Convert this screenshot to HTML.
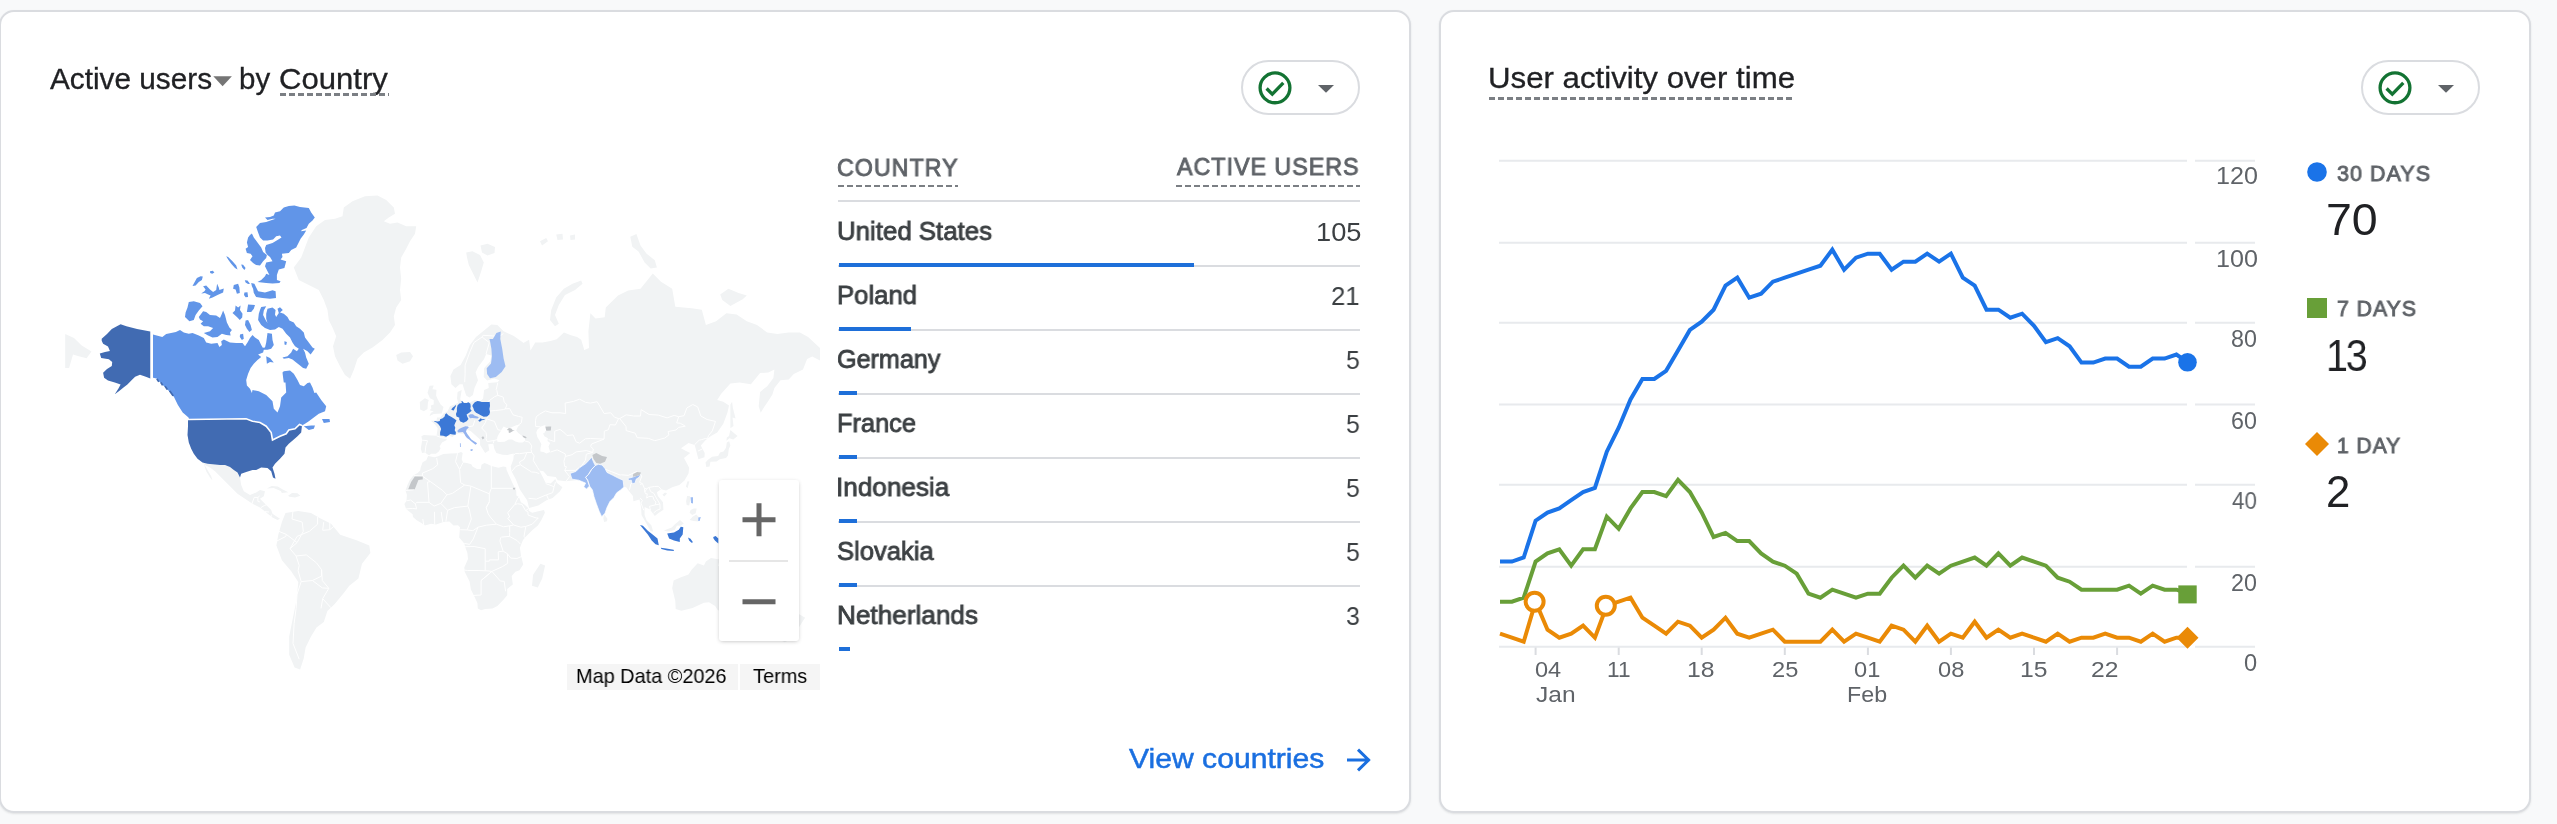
<!DOCTYPE html>
<html lang="en"><head><meta charset="utf-8"><title>Analytics overview</title>
<style>
*{box-sizing:border-box;margin:0;padding:0}
html,body{width:2557px;height:824px;overflow:hidden;background:#f8f9fa;font-family:"Liberation Sans", sans-serif}
#root{position:relative;width:2557px;height:824px;overflow:hidden}
.abs{position:absolute;overflow:visible}
.t{position:absolute;line-height:1;white-space:nowrap;will-change:transform;-webkit-font-smoothing:antialiased}
.t.c{text-align:center}
.card{position:absolute;background:#fff;border:2px solid #dadce0;border-radius:15px;box-shadow:0 1px 2px rgba(60,64,67,.12)}
.pill{position:absolute;width:119px;height:55px;border:2px solid #dadce0;border-radius:28px;background:#fff}
.dash{position:absolute;height:2.6px;background:repeating-linear-gradient(90deg,#7b7f84 0 6px,transparent 6px 9px)}
.hl{position:absolute;height:2px;background:#dadce0}
.bar{position:absolute;height:4px;background:#1e6fd9}
.zoom{position:absolute;left:719px;top:480px;width:80px;height:161px;background:#fff;border-radius:3px;box-shadow:0 1px 4px -1px rgba(0,0,0,.3)}
.attr{position:absolute;top:664px;height:26px;background:#f5f5f5}
</style></head>
<body><div id="root">
<div class="card" style="left:-1px;top:10px;width:1411.5px;height:803px"></div>
<div class="card" style="left:1439px;top:10px;width:1092px;height:803px"></div>
<div class="t" id="t_active" style="left:49.50px;top:63.51px;font-size:29.4px;color:#202124;letter-spacing:0px;-webkit-text-stroke:0.3px #202124;transform:scaleX(1.0127);transform-origin:left center">Active users</div>
<svg class="abs" style="left:213px;top:75.5px" width="20" height="11"><path d="M0.3 0.3h18.6l-9.3 10z" fill="#757575"/></svg>
<div class="t" id="t_by" style="left:238.80px;top:63.51px;font-size:29.4px;color:#202124;letter-spacing:0px;-webkit-text-stroke:0.3px #202124;transform:scaleX(1.0026);transform-origin:left center">by</div>
<div class="t" id="t_country" style="left:279.20px;top:63.51px;font-size:29.4px;color:#202124;letter-spacing:0px;-webkit-text-stroke:0.3px #202124;transform:scaleX(1.0581);transform-origin:left center">Country</div>
<div class="dash" style="left:280px;top:93px;width:109px"></div>
<div class="pill" style="left:1241px;top:60px"></div><svg class="abs" style="left:1256px;top:69px" width="38" height="38" viewBox="0 0 38 38"><circle cx="19" cy="18.85" r="14.9" fill="none" stroke="#137333" stroke-width="3.3"/><path d="M10.6 19.5l5.7 5.7 11-11.4" fill="none" stroke="#137333" stroke-width="3.3"/></svg><svg class="abs" style="left:1318.2px;top:84.9px" width="18" height="10"><path d="M0 0h16l-8 7.8z" fill="#5f6368"/></svg>
<div class="pill" style="left:2361px;top:60px"></div><svg class="abs" style="left:2376px;top:69px" width="38" height="38" viewBox="0 0 38 38"><circle cx="19" cy="18.85" r="14.9" fill="none" stroke="#137333" stroke-width="3.3"/><path d="M10.6 19.5l5.7 5.7 11-11.4" fill="none" stroke="#137333" stroke-width="3.3"/></svg><svg class="abs" style="left:2438.2px;top:84.9px" width="18" height="10"><path d="M0 0h16l-8 7.8z" fill="#5f6368"/></svg>
<div class="t" id="h_country" style="left:836.50px;top:155.68px;font-size:24px;color:#5f6368;letter-spacing:1px;-webkit-text-stroke:0.9px #5f6368;transform:scaleX(0.9709);transform-origin:left center">COUNTRY</div>
<div class="dash" style="left:838px;top:184.5px;width:120px;"></div>
<div class="t" id="h_users" style="left:1177.30px;top:154.98px;font-size:24px;color:#5f6368;letter-spacing:1px;-webkit-text-stroke:0.9px #5f6368;transform:scaleX(0.9708);transform-origin:left center">ACTIVE USERS</div>
<div class="dash" style="left:1176px;top:184.5px;width:184px;"></div>
<div class="hl" style="left:838px;top:200px;width:522px"></div>
<div class="t" id="r0" style="left:837.30px;top:218.34px;font-size:26.3px;color:#3c4043;letter-spacing:0px;-webkit-text-stroke:0.85px #3c4043;transform:scaleX(0.9821);transform-origin:left center">United States</div>
<div class="t" id="v0" style="left:1315.50px;top:219.48px;font-size:26.6px;color:#3c4043;letter-spacing:0px;transform:scaleX(1.0244);transform-origin:left center">105</div>
<div class="hl" style="left:838px;top:265px;width:522px"></div>
<div class="bar" style="left:839px;top:263px;width:355px"></div>
<div class="t" id="r1" style="left:837.30px;top:282.34px;font-size:26.3px;color:#3c4043;letter-spacing:0px;-webkit-text-stroke:0.85px #3c4043;transform:scaleX(0.9766);transform-origin:left center">Poland</div>
<div class="t" id="v1" style="left:1331.00px;top:283.48px;font-size:26.6px;color:#3c4043;letter-spacing:0px;transform:scaleX(0.9675);transform-origin:left center">21</div>
<div class="hl" style="left:838px;top:329px;width:522px"></div>
<div class="bar" style="left:839px;top:327px;width:71.5px"></div>
<div class="t" id="r2" style="left:837.30px;top:346.34px;font-size:26.3px;color:#3c4043;letter-spacing:0px;-webkit-text-stroke:0.85px #3c4043;transform:scaleX(0.9565);transform-origin:left center">Germany</div>
<div class="t" id="v2" style="left:1346.00px;top:347.48px;font-size:26.6px;color:#3c4043;letter-spacing:0px;transform:scaleX(0.9380);transform-origin:left center">5</div>
<div class="hl" style="left:838px;top:393px;width:522px"></div>
<div class="bar" style="left:839px;top:391px;width:17.5px"></div>
<div class="t" id="r3" style="left:837.30px;top:410.34px;font-size:26.3px;color:#3c4043;letter-spacing:0px;-webkit-text-stroke:0.85px #3c4043;transform:scaleX(0.9648);transform-origin:left center">France</div>
<div class="t" id="v3" style="left:1346.00px;top:411.48px;font-size:26.6px;color:#3c4043;letter-spacing:0px;transform:scaleX(0.9380);transform-origin:left center">5</div>
<div class="hl" style="left:838px;top:457px;width:522px"></div>
<div class="bar" style="left:839px;top:455px;width:17.5px"></div>
<div class="t" id="r4" style="left:836.30px;top:474.34px;font-size:26.3px;color:#3c4043;letter-spacing:0px;-webkit-text-stroke:0.85px #3c4043;transform:scaleX(0.9929);transform-origin:left center">Indonesia</div>
<div class="t" id="v4" style="left:1346.00px;top:475.48px;font-size:26.6px;color:#3c4043;letter-spacing:0px;transform:scaleX(0.9380);transform-origin:left center">5</div>
<div class="hl" style="left:838px;top:521px;width:522px"></div>
<div class="bar" style="left:839px;top:519px;width:17.5px"></div>
<div class="t" id="r5" style="left:837.30px;top:538.34px;font-size:26.3px;color:#3c4043;letter-spacing:0px;-webkit-text-stroke:0.85px #3c4043;transform:scaleX(0.9723);transform-origin:left center">Slovakia</div>
<div class="t" id="v5" style="left:1346.00px;top:539.48px;font-size:26.6px;color:#3c4043;letter-spacing:0px;transform:scaleX(0.9380);transform-origin:left center">5</div>
<div class="hl" style="left:838px;top:585px;width:522px"></div>
<div class="bar" style="left:839px;top:583px;width:17.5px"></div>
<div class="t" id="r6" style="left:837.30px;top:602.34px;font-size:26.3px;color:#3c4043;letter-spacing:0px;-webkit-text-stroke:0.85px #3c4043;transform:scaleX(0.9939);transform-origin:left center">Netherlands</div>
<div class="t" id="v6" style="left:1346.00px;top:603.48px;font-size:26.6px;color:#3c4043;letter-spacing:0px;transform:scaleX(0.9380);transform-origin:left center">3</div>
<div class="bar" style="left:839px;top:647px;width:11px"></div>
<div class="t" id="t_view" style="left:1128.50px;top:744.70px;font-size:28px;color:#1a6fe0;letter-spacing:0px;-webkit-text-stroke:0.5px #1a6fe0;transform:scaleX(1.0759);transform-origin:left center">View countries</div>
<svg class="abs" style="left:1345px;top:746px" width="28" height="28" viewBox="0 0 28 28"><path d="M2 14H24.6M13 3.6L23.6 14 13 24.4" fill="none" stroke="#1a6fe0" stroke-width="3"/></svg>
<div class="t" id="t_user" style="left:1487.50px;top:63.11px;font-size:29.4px;color:#202124;letter-spacing:0px;-webkit-text-stroke:0.3px #202124;transform:scaleX(1.0621);transform-origin:left center">User activity over time</div>
<div class="dash" style="left:1489px;top:97px;width:306px"></div>
<svg class="abs" style="left:0;top:0" width="2557" height="824" viewBox="0 0 2557 824">
<path d="M1499 646.7H2187M2195 646.7H2255" stroke="#e8eaed" stroke-width="2" fill="none"/>
<path d="M1499 566.7H2187M2195 566.7H2255" stroke="#e8eaed" stroke-width="2" fill="none"/>
<path d="M1499 484.8H2187M2195 484.8H2255" stroke="#e8eaed" stroke-width="2" fill="none"/>
<path d="M1499 404.6H2187M2195 404.6H2255" stroke="#e8eaed" stroke-width="2" fill="none"/>
<path d="M1499 322.7H2187M2195 322.7H2255" stroke="#e8eaed" stroke-width="2" fill="none"/>
<path d="M1499 242.7H2187M2195 242.7H2255" stroke="#e8eaed" stroke-width="2" fill="none"/>
<path d="M1499 160.8H2187M2195 160.8H2255" stroke="#e8eaed" stroke-width="2" fill="none"/>
<path d="M1535.6 647.5V655" stroke="#dadce0" stroke-width="2"/>
<path d="M1618.7 647.5V655" stroke="#dadce0" stroke-width="2"/>
<path d="M1701.7 647.5V655" stroke="#dadce0" stroke-width="2"/>
<path d="M1784.8 647.5V655" stroke="#dadce0" stroke-width="2"/>
<path d="M1867.9 647.5V655" stroke="#dadce0" stroke-width="2"/>
<path d="M1950.9 647.5V655" stroke="#dadce0" stroke-width="2"/>
<path d="M2034.0 647.5V655" stroke="#dadce0" stroke-width="2"/>
<path d="M2117.1 647.5V655" stroke="#dadce0" stroke-width="2"/>
<polyline points="1500.0,633.7 1511.9,637.7 1523.7,641.7 1535.6,601.7 1547.5,629.7 1559.3,637.7 1571.2,633.7 1583.1,625.7 1594.9,637.7 1606.8,605.7 1618.7,601.7 1630.5,597.7 1642.4,617.7 1654.3,625.7 1666.1,633.7 1678.0,621.7 1689.9,625.7 1701.7,637.7 1713.6,629.7 1725.5,617.7 1737.3,633.7 1749.2,637.7 1761.1,633.7 1772.9,629.7 1784.8,641.7 1796.7,641.7 1808.5,641.7 1820.4,641.7 1832.3,629.7 1844.1,641.7 1856.0,633.7 1867.9,637.7 1879.7,641.7 1891.6,625.7 1903.5,629.7 1915.3,641.7 1927.2,625.7 1939.1,641.7 1950.9,633.7 1962.8,637.7 1974.7,621.7 1986.5,637.7 1998.4,629.7 2010.3,637.7 2022.1,633.7 2034.0,637.7 2045.9,641.7 2057.7,633.7 2069.6,641.7 2081.5,637.7 2093.3,637.7 2105.2,633.7 2117.1,637.7 2129.0,637.7 2140.8,641.7 2152.7,633.7 2164.6,641.7 2176.4,637.7 2188.3,637.7" fill="none" stroke="#ea8a06" stroke-width="4" stroke-linejoin="miter"/>
<polyline points="1500.0,601.7 1511.9,601.7 1523.7,597.7 1535.6,561.6 1547.5,553.4 1559.3,549.3 1571.2,565.7 1583.1,549.3 1594.9,549.3 1606.8,516.6 1618.7,528.8 1630.5,508.4 1642.4,492.0 1654.3,492.0 1666.1,496.1 1678.0,479.8 1689.9,492.0 1701.7,512.5 1713.6,537.0 1725.5,532.9 1737.3,541.1 1749.2,541.1 1761.1,553.4 1772.9,561.6 1784.8,565.7 1796.7,573.7 1808.5,593.7 1820.4,597.7 1832.3,589.7 1844.1,593.7 1856.0,597.7 1867.9,593.7 1879.7,593.7 1891.6,577.7 1903.5,565.7 1915.3,577.7 1927.2,565.7 1939.1,573.7 1950.9,565.7 1962.8,561.6 1974.7,557.5 1986.5,565.7 1998.4,553.4 2010.3,565.7 2022.1,557.5 2034.0,561.6 2045.9,565.7 2057.7,577.7 2069.6,581.7 2081.5,589.7 2093.3,589.7 2105.2,589.7 2117.1,589.7 2129.0,585.7 2140.8,593.7 2152.7,585.7 2164.6,589.7 2176.4,589.7 2188.3,593.7" fill="none" stroke="#689f38" stroke-width="4" stroke-linejoin="miter"/>
<polyline points="1500.0,561.6 1511.9,561.6 1523.7,557.5 1535.6,520.7 1547.5,512.5 1559.3,508.4 1571.2,500.2 1583.1,492.0 1594.9,487.9 1606.8,451.7 1618.7,427.7 1630.5,399.5 1642.4,379.0 1654.3,379.0 1666.1,370.8 1678.0,350.4 1689.9,329.9 1701.7,321.7 1713.6,309.7 1725.5,285.7 1737.3,277.7 1749.2,297.7 1761.1,293.7 1772.9,281.7 1784.8,277.7 1796.7,273.7 1808.5,269.7 1820.4,265.7 1832.3,249.7 1844.1,269.7 1856.0,257.7 1867.9,253.7 1879.7,253.7 1891.6,269.7 1903.5,261.7 1915.3,261.7 1927.2,253.7 1939.1,261.7 1950.9,253.7 1962.8,277.7 1974.7,285.7 1986.5,309.7 1998.4,309.7 2010.3,317.7 2022.1,313.7 2034.0,325.8 2045.9,342.2 2057.7,338.1 2069.6,346.3 2081.5,362.6 2093.3,362.6 2105.2,358.6 2117.1,358.6 2129.0,366.7 2140.8,366.7 2152.7,358.6 2164.6,358.6 2176.4,354.5 2188.3,362.6" fill="none" stroke="#1a73e8" stroke-width="4" stroke-linejoin="miter"/>
<circle cx="1534.6" cy="601.7" r="9" fill="#fff" stroke="#ea8a06" stroke-width="4"/>
<circle cx="1605.8" cy="605.7" r="9" fill="#fff" stroke="#ea8a06" stroke-width="4"/>
<circle cx="2187.5" cy="362.3" r="9.3" fill="#1a73e8"/>
<rect x="2178.3" y="585.4" width="18.4" height="18" fill="#689f38"/>
<path d="M2187.5 626.7l11 11-11 11-11-11z" fill="#ea8a06"/>
<circle cx="2317" cy="172" r="9.8" fill="#1a73e8"/>
<rect x="2307" y="298" width="20" height="20" fill="#689f38"/>
<path d="M2317 432l12 12-12 12-12-12z" fill="#ea8a06"/>
</svg>
<div class="t" id="y0" style="left:2244.00px;top:651.60px;font-size:23.2px;color:#5f6368;letter-spacing:0px;transform:scaleX(1.0191);transform-origin:left center">0</div>
<div class="t" id="y20" style="left:2231.30px;top:571.60px;font-size:23.2px;color:#5f6368;letter-spacing:0px;transform:scaleX(1.0044);transform-origin:left center">20</div>
<div class="t" id="y40" style="left:2232.30px;top:489.56px;font-size:23.2px;color:#5f6368;letter-spacing:0px;transform:scaleX(0.9641);transform-origin:left center">40</div>
<div class="t" id="y60" style="left:2231.30px;top:409.64px;font-size:23.2px;color:#5f6368;letter-spacing:0px;transform:scaleX(1.0044);transform-origin:left center">60</div>
<div class="t" id="y80" style="left:2231.30px;top:327.60px;font-size:23.2px;color:#5f6368;letter-spacing:0px;transform:scaleX(1.0044);transform-origin:left center">80</div>
<div class="t" id="y100" style="left:2215.70px;top:247.60px;font-size:23.2px;color:#5f6368;letter-spacing:0px;transform:scaleX(1.0837);transform-origin:left center">100</div>
<div class="t" id="y120" style="left:2215.70px;top:165.23px;font-size:23.2px;color:#5f6368;letter-spacing:0px;transform:scaleX(1.0837);transform-origin:left center">120</div>
<div class="t" id="x04" style="left:1535.30px;top:659.37px;font-size:22.6px;color:#5f6368;letter-spacing:0px;transform:scaleX(1.0431);transform-origin:left center">04</div>
<div class="t" id="xJan" style="left:1536.30px;top:683.87px;font-size:22.6px;color:#5f6368;letter-spacing:0px;transform:scaleX(1.0847);transform-origin:left center">Jan</div>
<div class="t" id="x11" style="left:1607.07px;top:659.37px;font-size:22.6px;color:#5f6368;letter-spacing:0px;transform:scaleX(1.0021);transform-origin:left center">11</div>
<div class="t" id="x18" style="left:1687.27px;top:659.37px;font-size:22.6px;color:#5f6368;letter-spacing:0px;transform:scaleX(1.0934);transform-origin:left center">18</div>
<div class="t" id="x25" style="left:1771.72px;top:659.37px;font-size:22.6px;color:#5f6368;letter-spacing:0px;transform:scaleX(1.0460);transform-origin:left center">25</div>
<div class="t" id="x01" style="left:1854.17px;top:659.37px;font-size:22.6px;color:#5f6368;letter-spacing:0px;transform:scaleX(1.0460);transform-origin:left center">01</div>
<div class="t" id="xFeb" style="left:1847.20px;top:683.87px;font-size:22.6px;color:#5f6368;letter-spacing:0px;transform:scaleX(1.0295);transform-origin:left center">Feb</div>
<div class="t" id="x08" style="left:1937.62px;top:659.37px;font-size:22.6px;color:#5f6368;letter-spacing:0px;transform:scaleX(1.0460);transform-origin:left center">08</div>
<div class="t" id="x15" style="left:2020.06px;top:659.37px;font-size:22.6px;color:#5f6368;letter-spacing:0px;transform:scaleX(1.0934);transform-origin:left center">15</div>
<div class="t" id="x22" style="left:2090.80px;top:659.37px;font-size:22.6px;color:#5f6368;letter-spacing:0px;transform:scaleX(1.0911);transform-origin:left center">22</div>
<div class="t" id="l30" style="left:2336.80px;top:162.68px;font-size:22px;color:#5f6368;letter-spacing:1px;-webkit-text-stroke:0.9px #5f6368;transform:scaleX(0.9808);transform-origin:left center">30 DAYS</div>
<div class="t" id="n70" style="left:2325.70px;top:198.03px;font-size:44.5px;color:#202124;letter-spacing:0px;transform:scaleX(1.0445);transform-origin:left center">70</div>
<div class="t" id="l7" style="left:2337.00px;top:298.48px;font-size:22px;color:#5f6368;letter-spacing:1px;-webkit-text-stroke:0.9px #5f6368;transform:scaleX(0.9670);transform-origin:left center">7 DAYS</div>
<div class="t" id="n13" style="left:2325.50px;top:335.26px;font-size:43.5px;color:#202124;letter-spacing:-2.5px;transform:scaleX(0.9075);transform-origin:left center">13</div>
<div class="t" id="l1" style="left:2337.00px;top:434.68px;font-size:22px;color:#5f6368;letter-spacing:1px;-webkit-text-stroke:0.9px #5f6368;transform:scaleX(0.9581);transform-origin:left center">1 DAY</div>
<div class="t" id="n2" style="left:2325.60px;top:470.88px;font-size:43.5px;color:#202124;letter-spacing:0px;transform:scaleX(1.0057);transform-origin:left center">2</div>
<svg class="abs" style="left:0;top:0" width="830" height="720" viewBox="0 0 830 720">
<defs><clipPath id="mclip"><rect x="64" y="150" width="756" height="545"/></clipPath></defs><g clip-path="url(#mclip)">
<path d="M343.8 207.5L352.5 201.2L365.0 196.2L377.5 195.5L386.2 200.0L393.8 207.5L395.0 213.8L388.8 217.5L383.8 221.2L390.0 223.8L397.5 222.5L406.2 226.2L416.2 226.2L415.0 233.8L410.0 241.2L406.2 248.8L401.2 257.5L400.0 267.5L401.2 278.8L400.0 290.0L401.2 300.0L396.2 307.5L393.8 316.2L395.0 325.0L390.0 332.5L382.5 340.0L372.5 347.5L363.8 352.5L357.5 358.8L353.8 370.0L350.0 378.8L345.0 375.0L340.0 366.2L335.0 356.2L333.0 346.2L336.2 336.2L332.5 327.5L328.8 320.0L327.5 310.0L323.8 300.0L318.8 290.0L308.8 285.0L298.8 280.0L293.8 267.5L301.2 257.5L305.0 247.5L308.8 237.5L316.2 226.2L325.0 220.0L335.0 218.8L342.5 216.2ZM396.2 355.0L401.2 352.5L410.0 352.0L413.0 356.2L410.0 361.2L402.5 363.8L397.5 360.5ZM466.2 252.5L472.5 251.2L480.0 255.0L483.8 262.5L481.2 271.2L477.5 282.5L473.8 275.0L468.8 265.0L467.0 257.5ZM480.5 245.5L487.5 243.8L495.0 247.0L494.5 253.0L487.5 255.5L482.0 252.5ZM581.2 280.5L582.5 283.8L575.0 290.0L565.0 295.0L558.8 305.0L555.0 315.0L558.8 323.8L555.0 326.2L550.0 320.0L551.2 310.0L556.2 297.5L563.8 288.8L572.5 283.8ZM540.0 241.2L546.2 238.0L548.0 241.2L542.0 245.5ZM556.2 234.5L562.5 233.8L563.0 239.5L557.5 240.0ZM570.0 235.5L575.0 234.5L575.0 239.5L570.5 240.0ZM285.5 512.9L298.3 511.0L311.0 512.9L320.1 518.3L331.1 523.8L340.2 534.7L356.5 540.2L369.3 545.6L370.4 552.9L362.0 563.8L358.4 578.4L349.3 585.7L343.8 592.9L334.7 603.9L327.4 611.1L323.8 622.1L316.5 627.5L311.0 636.6L305.6 647.5L303.7 658.5L300.1 669.4L294.6 667.6L289.2 654.8L289.2 636.6L292.8 618.4L296.5 600.2L298.3 582.0L291.0 571.1L281.9 560.2L276.4 545.6L278.3 534.7L281.9 522.0ZM428.1 455.9L434.3 457.2L438.2 456.2L443.3 453.9L450.4 453.4L457.6 453.2L461.0 452.1L462.7 452.9L461.7 459.2L463.1 462.4L466.8 463.1L471.3 464.3L472.5 466.5L477.0 468.9L480.7 468.9L481.5 464.8L484.4 463.1L487.2 463.9L491.3 466.0L498.5 467.7L503.2 466.5L506.2 467.0L506.6 470.1L508.7 474.8L512.8 483.8L516.2 490.5L516.4 495.5L518.9 497.0L520.9 502.3L524.4 504.4L528.7 508.4L528.7 510.7L532.2 512.8L537.3 511.4L544.0 509.9L544.9 512.8L541.4 520.1L537.9 525.6L532.2 530.3L526.0 536.4L523.0 540.1L519.9 547.7L520.9 554.9L523.2 564.4L519.5 570.3L515.4 571.8L511.7 576.1L512.8 584.5L507.2 589.0L507.2 595.2L503.2 599.9L497.4 605.9L492.5 608.4L485.2 608.9L481.1 610.3L477.8 608.4L477.4 603.0L473.9 595.4L470.9 589.5L469.6 581.6L464.7 571.8L464.3 567.5L468.0 559.1L467.4 552.9L465.1 546.7L464.3 543.4L459.2 537.5L459.6 532.4L460.0 527.2L458.0 525.2L453.5 525.6L449.4 521.5L443.3 522.1L436.1 524.6L431.0 523.8L424.9 525.4L421.4 522.9L416.7 520.3L413.0 517.0L412.6 514.3L409.5 511.8L406.1 508.9L404.4 504.0L406.5 500.8L406.9 494.8L405.5 490.5L407.5 485.0L409.9 479.8L413.6 475.2L417.7 472.9L420.2 470.5L420.6 467.7L422.6 462.2L426.3 460.2ZM540.4 563.8L545.1 565.6L542.2 578.4L537.8 587.5L532.0 585.7L533.1 574.7ZM202.5 462.5L207.5 463.8L215.0 464.5L220.0 465.0L225.0 465.0L230.0 467.0L233.8 470.0L237.5 472.5L240.0 477.5L241.2 485.0L243.8 491.2L250.0 495.0L256.2 492.5L260.0 490.0L265.0 491.2L263.8 496.2L260.0 498.8L265.0 503.8L271.2 510.0L272.5 513.8L276.2 516.2L280.0 518.8L277.5 520.0L272.5 517.5L266.2 512.5L260.0 507.5L252.5 503.8L245.0 498.8L237.5 493.8L230.0 486.2L222.5 478.8L215.0 471.2L210.0 467.5L205.0 465.0ZM203.8 463.8L207.5 470.0L211.2 476.2L212.5 480.5L210.0 477.5L206.2 471.2ZM421.4 436.3L422.2 440.2L420.8 448.5L422.0 452.9L425.1 452.4L427.3 454.2L429.2 455.2L431.2 453.7L435.9 453.7L438.8 451.4L440.6 448.2L439.6 446.4L442.0 442.4L446.7 439.9L446.3 436.0L448.4 435.5L452.5 436.9L455.5 434.6L458.6 433.2L464.7 434.1L466.8 429.4L470.9 431.2L480.1 439.6L480.1 445.1L485.2 452.9L489.3 450.3L488.2 444.3L493.3 443.7L494.4 449.0L496.4 452.9L502.5 454.7L507.7 454.9L513.8 453.4L513.4 459.2L510.7 466.5L511.5 471.3L515.8 479.3L519.9 489.4L527.1 500.2L529.1 508.0L538.3 505.5L546.5 500.2L552.6 498.1L559.8 491.6L562.4 487.2L556.7 482.7L555.3 478.9L550.6 483.4L545.5 482.7L543.4 478.2L539.3 470.5L543.4 471.3L547.5 475.9L555.7 477.1L557.7 480.2L565.9 481.2L576.1 480.2L581.2 480.5L591.5 483.8L597.6 492.7L599.6 509.7L603.7 499.1L613.9 489.4L621.1 486.5L626.2 487.2L628.9 490.9L632.9 495.9L633.4 501.3L639.5 499.6L641.1 507.6L641.5 514.9L645.0 521.1L650.7 531.3L653.2 531.5L651.3 525.2L646.6 520.5L644.6 514.9L644.6 507.0L649.7 509.3L654.8 515.9L658.5 513.0L663.4 509.7L663.0 502.3L657.9 495.9L656.9 492.2L661.0 489.2L666.1 490.5L672.2 487.2L679.3 485.0L684.5 480.5L688.5 473.6L689.2 467.7L684.0 458.0L690.2 452.9L685.5 450.8L681.0 448.2L688.5 442.9L694.7 445.1L696.3 451.1L698.4 459.2L704.5 457.2L704.7 452.9L700.8 445.6L705.5 440.2L711.0 436.0L717.2 432.6L723.3 423.8L727.4 412.8L729.0 405.5L723.3 401.7L717.2 400.0L721.2 393.8L730.4 383.4L739.6 382.6L750.9 384.2L760.1 373.0L768.3 372.6L774.4 369.6L773.4 378.1L767.2 386.2L760.1 391.9L758.7 406.2L760.7 412.8L764.2 406.9L768.3 401.0L772.4 394.5L774.4 388.1L780.5 380.2L788.7 379.4L793.8 373.9L803.0 369.6L807.1 359.0L812.2 356.5L820.0 360.4L820.0 347.9L808.1 337.0L799.9 332.4L788.7 332.4L777.5 334.1L767.2 332.4L757.0 325.1L746.8 321.2L736.6 314.6L726.4 313.2L716.1 321.2L705.9 325.1L701.8 309.7L691.6 308.3L675.3 306.8L672.2 288.8L661.0 281.8L652.8 273.5L640.5 288.8L628.2 290.5L618.0 295.4L605.8 307.6L604.7 317.3L595.5 318.6L590.4 313.2L588.4 331.2L589.0 347.9L584.3 350.0L581.2 339.8L577.1 337.0L571.0 335.3L563.9 332.4L556.7 339.3L550.6 340.9L542.4 342.6L535.2 342.6L530.5 350.5L529.1 339.8L522.0 343.7L524.4 350.5L518.9 353.1L510.7 350.5L515.8 362.7L520.9 359.9L523.6 352.1L525.0 346.9L523.0 342.6L513.8 335.9L503.6 331.2L497.4 325.1L491.3 324.4L483.1 331.2L476.0 337.0L469.8 345.3L465.8 355.6L460.6 365.1L453.5 369.6L450.4 376.0L451.4 384.2L455.5 388.1L459.6 384.2L462.7 384.2L463.7 388.1L466.2 395.6L469.4 397.4L472.9 394.9L474.5 388.1L478.0 380.2L475.6 372.6L478.0 367.3L484.1 359.0L486.2 354.1L491.3 355.6L490.3 361.3L484.1 368.2L483.7 376.9L487.2 380.6L494.4 378.5L499.5 380.2L497.4 382.2L488.2 383.0L488.8 388.1L484.1 390.0L483.1 398.5L480.1 401.4L474.9 400.0L469.4 402.8L462.7 402.1L460.2 399.2L461.7 390.0L457.6 391.9L457.0 398.5L458.2 402.8L454.5 404.5L450.0 406.2L447.4 411.5L443.5 413.5L440.6 417.6L437.1 417.6L436.5 420.4L430.8 420.7L435.1 424.4L437.7 428.3L436.5 435.8L432.0 435.5L423.8 434.9ZM429.4 416.0L433.7 414.1L441.8 413.5L443.5 406.9L440.6 404.5L437.7 399.2L436.1 395.6L436.5 389.7L432.4 389.3L433.7 385.4L429.6 385.8L427.5 392.7L430.0 398.2L433.7 400.0L433.7 404.5L430.8 405.5L431.4 408.6L429.6 410.2L433.7 411.5L431.0 412.8ZM427.5 408.9L427.9 402.8L428.8 400.0L424.9 398.2L419.8 402.1L420.2 409.6L423.8 411.2ZM706.3 467.0L709.6 466.5L710.4 461.7L716.5 461.4L719.8 459.2L726.0 458.0L728.0 455.4L728.8 449.0L730.4 445.6L729.2 441.3L726.8 442.4L726.0 447.7L723.5 451.4L720.0 452.4L718.2 455.9L712.1 456.7L708.0 459.7L705.5 462.4ZM726.4 440.7L729.4 438.3L733.3 439.6L737.6 436.0L735.1 434.1L730.4 430.0L729.0 436.0L726.8 437.4ZM730.4 428.3L733.5 425.9L732.5 417.6L735.6 418.6L732.9 407.9L732.1 401.7L730.4 404.5L730.4 416.0L730.4 422.3ZM685.9 486.5L687.5 488.3L689.4 481.6L687.5 481.2ZM662.4 494.8L664.2 496.6L667.1 493.5L665.0 492.5ZM603.3 518.0L604.1 522.1L607.0 521.3L607.4 518.8L604.3 514.5ZM664.2 530.7L667.7 531.5L671.2 531.3L674.9 529.7L676.9 525.6L680.6 525.8L683.8 523.6L680.0 520.1L677.7 522.1L674.9 524.2L671.8 527.4L667.7 528.9L664.6 530.3ZM686.7 505.1L689.2 505.5L690.2 500.2L689.8 495.9L687.1 495.9L686.1 501.3ZM689.6 520.1L693.7 521.1L698.4 521.5L698.8 517.0L696.3 514.5L692.6 516.8ZM689.6 512.8L692.2 514.9L695.7 513.2L696.7 508.6L693.7 508.6L690.6 510.1ZM728.4 539.7L735.6 542.2L741.7 546.7L747.8 555.6L741.7 554.9L734.5 550.2L728.4 553.1ZM673.6 580.5L672.2 588.3L675.3 601.1L675.7 609.1L681.4 610.8L692.6 608.1L703.9 602.8L709.0 602.3L715.1 605.9L718.2 610.8L722.3 607.1L726.0 614.6L733.5 620.3L739.6 621.1L746.4 616.9L749.3 607.1L752.9 598.7L753.5 588.3L748.4 581.6L744.3 576.6L739.0 573.5L737.2 565.4L733.5 563.7L731.5 556.6L729.4 562.2L728.4 570.3L724.9 570.7L718.2 565.8L719.8 559.5L711.0 558.1L705.9 561.6L703.9 565.4L697.7 563.3L691.6 569.7L688.5 574.4L680.4 577.4ZM793.2 609.6L798.9 614.1L805.1 617.7L802.0 622.4L798.5 628.1L797.5 621.9L795.4 621.9L797.5 616.7ZM793.2 625.3L796.3 628.3L793.2 634.2L788.7 640.5L784.6 642.3L780.5 640.2L784.6 634.7L789.7 630.0ZM65.2 334.0L74.0 337.9L81.7 345.6L91.5 351.5L86.6 358.3L78.8 356.3L73.0 354.4L69.1 368.0L65.2 368.0ZM266.9 488.5L271.6 485.9L277.7 486.5L282.8 489.4L288.3 492.2L281.8 492.9L280.8 491.1L273.6 488.1ZM288.1 495.7L292.0 492.9L297.5 493.3L300.4 495.7L295.1 497.6L289.4 496.8ZM720.2 294.6L728.4 288.8L738.6 293.0L746.8 295.4L742.7 299.3L730.4 306.1L722.3 300.1ZM630.3 236.7L636.4 234.1L640.5 245.5L646.6 253.7L654.8 260.3L656.9 267.6L650.7 268.6L644.6 262.5L638.5 251.4L632.3 246.7Z" fill="#f1f3f4"/>
<path d="M293.0 510.7L292.0 519.0L302.2 522.1L303.3 531.3L297.1 542.6M317.6 524.2L309.4 531.3L297.1 536.4L290.0 548.7L296.1 556.0L306.3 554.9L316.5 562.9L321.6 569.7L322.3 580.5L328.8 588.3L322.7 598.7L330.8 607.6M296.1 556.0L299.2 565.4L298.1 570.7L301.2 581.6L297.1 594.0L296.1 608.4L294.1 623.7L293.0 643.5L299.2 659.2M301.2 581.6L312.4 580.5L322.3 587.9L328.8 588.3M276.1 541.4L285.9 536.4L286.3 534.4L297.1 542.6L290.0 548.7M278.7 531.3L286.3 534.4M317.6 524.2L317.6 517.0M323.7 522.1L322.7 530.3L329.8 529.7L329.8 522.5M334.5 525.8L329.8 529.7M312.4 580.5L321.6 576.1L321.6 569.7M322.7 598.7L321.0 608.4M251.7 504.4L254.2 497.4L257.9 497.4L259.7 495.9M257.9 497.4L257.9 501.5L259.9 501.9M260.9 507.6L264.4 505.5L270.1 503.4M265.0 511.6L269.1 512.0M270.8 517.8L271.4 514.7M436.7 458.0L437.7 464.8L432.8 468.7L422.4 473.1L422.4 476.1L413.6 475.4M422.4 476.1L430.4 481.6L442.7 490.5L446.9 494.8L448.8 494.4L452.5 493.3L464.7 485.0L470.9 486.1L489.3 493.8L489.3 501.9L486.2 507.6L488.2 513.9L490.3 517.0L496.4 524.2L503.6 526.8L509.7 525.8L513.6 525.0M457.6 453.2L455.5 461.7L459.6 469.4L460.6 482.7L464.7 485.0M463.1 462.4L461.0 466.5L459.6 469.4M491.3 466.0L491.3 488.3L489.3 493.8M491.3 488.3L515.6 488.3M405.5 490.5L413.6 489.8L413.6 486.1L415.7 485.2L415.7 479.3L422.4 479.3L422.4 476.1M406.5 500.8L410.6 500.0L415.3 503.8L416.7 508.9L412.2 508.4L406.1 508.9M415.3 503.8L416.9 502.3L429.0 502.3L427.5 482.1L430.4 481.6M429.0 502.3L434.1 506.1L440.8 503.4L446.9 494.8M440.8 503.4L447.6 510.3L445.9 521.5M447.6 510.3L454.5 507.6L467.8 506.1L470.9 486.1M467.8 506.1L469.2 509.1L471.3 519.0L467.2 529.9L460.2 529.7M467.2 529.9L472.9 530.7L478.0 527.2L486.2 525.2L496.4 524.2M422.8 519.0L423.8 525.4M434.7 524.2L434.5 511.8M442.7 521.9L441.2 511.8M489.3 501.9L486.2 507.6M514.8 504.4L507.7 512.8L509.7 517.0L507.7 518.4L513.6 525.0L520.9 527.2L525.8 526.4L532.2 524.2L538.3 518.0L536.3 518.0L528.1 515.1L527.9 511.8L525.6 510.7L528.7 508.4M514.8 504.4L517.9 498.1L518.9 497.0M514.8 504.4L517.7 503.8L522.0 504.4L525.6 510.7M525.8 526.4L524.0 536.4L525.2 537.9M509.7 525.8L509.7 532.4L509.5 536.4L501.5 537.1L500.7 537.5L499.9 541.1L503.2 551.2L498.2 551.8L498.5 559.9L489.3 559.9L489.3 561.2L485.2 561.2L485.2 570.7M509.5 536.4L517.3 540.7L520.3 544.0M503.2 551.2L507.4 553.7L510.7 558.1L516.9 558.5L522.8 556.0M464.3 570.1L467.8 570.5L478.0 570.5L488.0 570.9L491.9 571.4L481.1 580.5L481.1 595.0L473.9 595.4M481.1 580.5L491.9 571.4L500.3 581.0L504.2 581.4L505.6 591.3M491.9 571.4L502.3 566.7L507.7 563.3L507.4 553.7M465.1 546.7L474.1 546.5L485.2 548.7L485.2 561.2M464.3 543.4L469.6 544.4L473.3 538.9L478.0 527.2M422.2 440.2L427.5 440.7L425.9 445.9L425.1 452.4M436.5 435.8L441.6 437.7L446.7 438.5M486.0 354.1L489.3 342.6L482.1 337.0L483.1 335.3L492.7 335.9L499.3 336.4L503.4 333.6M464.7 382.2L465.1 373.9L465.1 365.1L469.8 352.1L473.9 342.6L482.1 337.0M488.4 411.2L489.3 413.8L486.6 418.9L494.4 421.4L497.8 429.7L500.7 430.3M488.4 411.2L495.4 410.5L503.6 409.6L505.2 408.9L507.0 404.8L504.2 402.1L503.2 397.1L497.8 395.3L496.8 390.4L496.2 389.7L497.8 382.6M505.2 408.9L509.7 408.6L513.0 414.8L518.5 416.4L522.2 417.3L521.3 422.9L518.3 425.0M488.4 411.2L487.8 401.7L494.6 396.7L497.8 395.3M486.0 432.6L486.6 436.3L486.0 438.8L487.2 441.6L494.0 440.5L497.4 439.6M486.0 432.6L481.7 428.0L485.4 422.6L486.6 418.9M468.2 426.8L473.1 425.9L474.7 420.4M494.0 440.5L493.3 443.2M525.0 441.0L529.1 442.1L531.8 445.9L531.0 449.3L531.8 452.4M535.5 420.7L536.3 416.7L539.7 414.1L545.3 410.9L552.0 412.8L560.0 412.8L565.7 413.5L565.1 403.1L573.5 401.4L579.6 399.2L585.7 402.4L590.4 403.1L597.2 401.7L604.1 413.5L610.7 412.8L614.6 417.3L618.6 418.6M618.6 418.6L619.7 418.6L626.2 414.8L633.6 416.0L640.5 416.0L641.1 409.6L649.1 414.5L658.3 415.1L667.1 417.9L674.2 415.4L678.7 416.7L684.0 415.7L686.9 407.9L692.8 404.5L697.7 406.9L700.8 416.0L707.1 419.5L715.5 421.4L712.3 430.9L708.6 435.5L707.4 438.8M619.7 418.6L626.0 426.5L626.2 430.6L635.2 433.2L637.2 437.7L648.3 438.3L654.8 440.7L664.8 438.0L668.9 434.9L668.1 431.5L676.1 430.0L678.5 427.4L685.3 426.2L680.2 423.2L676.7 422.9L678.7 416.7M618.6 418.6L615.4 425.0L609.9 424.7L608.4 429.7L604.3 431.2L604.1 439.1L591.5 444.0L590.6 446.4L593.3 449.0L592.7 452.4M535.5 420.7L535.7 426.5L540.4 426.8M548.5 439.6L554.7 441.6L554.7 431.2L560.0 429.4L564.9 433.2L566.9 435.5L573.1 434.9L576.1 441.8L579.6 443.2L585.3 438.8L590.4 438.5L604.1 439.1M550.4 452.1L557.1 449.8L565.3 453.9L565.3 456.5L563.9 461.2L564.7 466.5L566.5 466.7L564.7 470.5L569.6 476.6L566.1 481.2M565.3 456.5L572.0 454.7L576.1 451.9L586.3 450.6L592.7 452.4M564.7 470.5L575.7 470.3L581.8 465.5L585.5 460.2L586.3 454.2L592.7 452.4M531.8 452.4L534.2 455.9L533.2 460.4L537.7 467.7L539.3 470.3M531.8 452.4L526.9 452.6L519.5 453.7L515.2 453.4L513.8 455.4M526.9 452.6L524.0 459.4L519.5 461.9L520.3 464.8L515.8 466.5L511.7 471.5M520.3 464.8L531.6 472.0L535.2 472.2L539.3 473.6M528.5 498.3L536.3 499.1L546.5 494.8L552.6 492.7M546.5 494.8L548.7 499.8M552.6 492.7L554.1 486.7L545.7 483.6M554.1 486.7L555.5 481.8M604.1 468.7L606.0 469.6L611.7 471.7L620.1 475.0L621.7 474.8L628.2 475.4L636.8 471.5L639.3 474.1L641.9 475.9L639.5 482.3L642.4 483.6L644.4 488.3L646.8 488.7L648.9 487.4L654.4 486.5L658.3 486.3L661.0 489.2M639.3 474.1L636.8 476.4L633.6 482.3L630.9 483.8L629.5 489.8M646.8 488.7L644.8 492.0L645.6 493.8L647.3 493.8L646.6 498.1L648.9 496.6L652.8 496.3L654.2 500.2L656.0 501.9L655.2 504.9L659.9 504.0L660.1 509.1L656.7 510.3L653.6 513.0M642.4 483.6L640.1 484.5M644.4 488.3L644.8 492.0M640.1 497.9L642.4 500.6L640.9 503.0L643.0 508.4L643.8 510.3M648.9 487.4L650.7 491.6L654.0 493.5L655.2 496.1L659.9 504.0M655.2 504.9L649.5 506.3L650.5 510.3M694.5 444.8L699.2 440.2L701.8 439.6L705.3 438.5L707.4 438.8M697.9 451.1L702.6 448.8M728.4 539.7L728.4 553.1" fill="none" stroke="#fff" stroke-width="1" stroke-linejoin="round"/>
<path d="M497.4 441.8L499.5 442.1L504.6 441.8L508.7 439.6L512.1 439.6L515.4 441.6L518.9 442.4L522.6 442.4L525.2 440.7L524.8 437.7L521.6 435.5L518.3 432.9L516.2 430.6L517.9 426.8L520.3 424.7L516.9 425.0L512.1 427.1L508.9 428.3L506.6 428.0L503.6 426.5L501.9 428.9L500.7 431.2L498.9 434.1L497.4 436.9L497.0 439.6ZM540.4 426.8L544.4 425.3L548.5 426.8L548.5 430.3L545.1 431.2L544.4 433.2L543.0 433.2L544.4 436.3L547.9 438.3L547.5 441.0L550.2 442.9L548.5 446.4L550.2 452.1L546.5 453.4L543.4 452.1L540.4 451.6L540.4 448.2L541.4 444.3L539.3 440.2L537.3 436.9L536.3 432.6L537.3 429.7Z" fill="#ffffff"/>
<path d="M506.8 430.0L508.9 428.0L511.3 428.6L512.8 430.3L514.8 430.3L512.6 431.2L509.7 432.9L508.5 432.3L508.9 430.6ZM522.4 435.5L525.2 436.3L526.9 438.0L525.0 438.3L523.0 436.9ZM481.5 437.2L483.1 436.3L484.4 438.0L482.7 439.4ZM512.8 487.8L515.6 487.8L514.6 489.8L513.0 489.2Z" fill="#c4c7ca"/>
<path d="M153.0 334.6L162.3 336.9L166.2 334.0L175.9 332.0L180.0 330.0L183.8 332.5L188.8 333.8L192.5 333.1L198.8 335.6L203.8 338.1L206.2 342.5L211.2 343.8L217.5 343.1L219.4 346.9L221.9 345.0L221.2 341.2L223.8 339.4L230.0 342.5L236.2 343.1L242.5 343.1L245.0 346.2L247.5 342.5L250.0 338.1L252.5 335.0L255.0 337.5L258.8 340.0L261.2 345.0L262.8 347.8L265.0 347.5L266.2 342.5L266.9 337.5L267.5 333.1L271.9 333.8L272.5 340.0L273.8 345.0L271.2 348.8L267.5 349.8L263.8 349.8L263.1 352.5L260.0 353.8L258.1 354.4L261.2 356.9L257.5 360.0L253.8 363.8L250.6 368.1L248.1 373.8L246.2 380.0L246.9 385.6L250.0 388.8L251.9 393.0L252.5 390.0L258.8 391.2L266.2 395.0L272.5 401.2L273.8 408.8L277.5 412.5L280.0 406.2L281.2 397.5L286.2 392.5L285.5 382.5L283.8 382.5L283.1 377.5L282.5 372.5L283.8 371.2L290.0 370.6L293.8 373.8L297.5 380.0L300.0 385.0L303.8 386.2L307.5 383.1L310.0 382.5L312.5 387.5L314.4 393.0L316.2 392.5L321.2 400.0L326.2 406.2L325.0 411.2L318.8 413.8L313.8 417.5L308.8 421.2L305.0 423.8L302.0 425.5L299.5 424.5L295.0 428.8L288.8 430.0L286.2 433.8L280.0 436.2L272.5 440.0L271.2 432.5L266.2 426.2L260.0 422.5L252.5 421.2L246.2 418.8L188.0 419.5L190.5 423.3L188.5 417.5L182.7 412.6L177.9 404.9L174.0 397.1L168.2 390.3L162.3 384.5L156.5 378.6L153.0 377.7ZM303.8 426.2L308.8 430.0L313.8 428.8L315.0 425.5L311.2 425.5ZM322.0 419.0L329.5 419.0L330.0 422.0L323.8 423.0ZM283.8 207.5L288.8 206.0L294.4 205.6L300.0 206.9L308.8 208.1L311.2 212.5L314.8 217.5L312.5 220.6L308.8 223.8L306.5 228.1L301.9 230.0L301.0 231.2L306.2 230.6L303.8 234.4L300.6 238.8L298.1 243.8L296.2 247.5L291.2 250.0L288.8 253.1L281.9 253.8L282.5 256.9L280.6 259.4L286.2 261.2L284.4 268.1L278.8 269.4L276.9 275.0L276.9 280.0L280.6 281.2L279.4 283.1L272.5 283.5L266.2 283.1L257.5 281.9L261.2 280.0L265.0 276.2L266.2 273.8L269.4 275.0L267.5 271.2L265.0 266.2L266.2 262.5L272.5 261.2L270.0 256.9L267.5 255.0L265.6 252.5L265.0 248.1L266.2 245.0L272.5 243.1L277.5 240.0L281.5 237.5L280.0 235.6L276.2 236.2L273.1 239.4L267.5 240.6L263.1 240.6L260.0 237.5L258.1 232.5L256.2 226.9L260.0 223.1L266.2 221.9L271.9 220.0L275.6 218.8L272.5 218.8L267.5 220.0L265.0 217.5L270.0 216.9L273.8 215.6L275.0 212.5L280.0 211.2L282.5 208.8ZM251.9 233.5L253.8 237.5L257.5 242.5L261.2 247.5L263.1 251.9L266.9 255.0L266.2 258.1L263.1 261.2L260.0 265.6L256.2 265.0L253.1 263.1L250.0 260.0L252.5 256.2L250.6 253.8L246.9 253.1L245.6 248.8L248.1 246.9L246.9 242.5L248.1 237.5L250.0 235.0ZM251.2 283.1L254.4 283.8L256.2 287.5L258.1 291.2L265.0 292.5L272.5 290.2L275.6 291.2L276.0 298.1L270.0 298.8L262.5 298.1L256.2 296.9L253.8 293.1L253.1 288.8L251.9 286.2ZM226.2 256.2L228.1 256.9L232.5 261.2L236.2 265.6L237.5 269.4L235.0 268.1L231.2 263.8L228.1 259.4ZM241.2 264.4L243.1 264.8L245.6 268.1L244.4 270.0L242.2 267.5ZM210.0 271.2L212.8 270.8L214.4 272.5L212.2 273.8L210.2 273.0ZM244.8 280.2L247.5 280.6L250.0 283.8L248.1 284.0L245.6 282.5ZM196.9 278.1L200.6 276.2L202.8 276.5L201.9 280.0L198.8 281.9L195.6 285.6L192.5 286.0L194.4 282.5ZM203.1 286.2L206.2 285.6L210.0 289.4L213.1 291.9L216.2 290.0L217.1 283.8L218.8 287.5L219.4 290.0L223.8 288.5L223.1 292.5L217.5 295.0L212.5 297.5L208.8 298.8L210.6 295.6L208.1 294.4L205.0 293.1L201.2 293.5L204.4 291.2L205.6 289.4ZM233.8 285.0L238.1 283.8L239.4 287.5L239.8 293.1L236.9 293.8L235.6 289.4L233.1 288.8ZM244.4 292.5L247.5 292.2L248.1 296.9L245.6 297.2L244.0 295.0ZM188.8 301.9L193.8 301.2L200.0 303.1L202.5 306.2L198.8 310.6L195.6 315.0L193.8 320.0L189.4 321.2L185.0 316.9L185.6 312.5L187.5 307.5ZM198.8 316.9L203.1 311.2L206.2 311.9L210.0 315.0L216.2 315.6L220.0 318.1L221.9 313.8L223.1 310.6L225.0 315.0L226.9 322.5L229.4 327.5L231.9 330.0L230.0 332.5L230.6 335.6L226.2 335.0L221.9 333.8L217.5 336.9L212.5 337.5L208.1 335.6L203.8 333.1L210.0 331.2L213.1 328.1L208.1 326.2L203.8 326.2L200.6 323.8L203.1 321.2L200.0 319.4ZM235.6 305.6L238.1 307.5L240.6 305.6L240.0 310.0L242.5 313.8L242.2 317.5L239.8 320.0L236.9 316.9L232.5 313.1L235.0 310.6ZM248.1 304.4L255.0 305.0L253.8 308.8L251.2 311.9L246.9 311.9L247.5 308.1ZM245.6 320.6L248.1 320.0L250.6 325.0L251.9 330.0L249.4 331.9L246.9 328.8L245.0 325.0ZM240.0 334.4L243.1 333.8L243.8 338.8L241.9 340.0L239.8 336.9ZM261.2 306.9L266.2 306.2L263.8 310.6L263.1 315.0L265.6 320.0L267.5 323.1L266.2 318.8L266.2 313.8L267.5 308.8L272.5 307.5L275.6 310.0L275.0 314.4L276.2 316.9L278.8 313.1L277.5 308.8L280.0 307.2L282.8 310.0L280.0 312.5L283.8 313.8L287.5 316.9L289.4 320.6L293.8 322.5L296.2 326.2L300.0 328.8L303.8 332.5L305.0 337.5L308.8 342.5L312.5 347.5L314.8 348.8L310.6 354.4L307.5 351.2L303.1 348.8L305.0 352.5L306.2 357.5L308.8 363.8L306.2 368.8L303.1 368.1L299.4 365.0L296.2 362.5L292.5 359.4L288.8 358.1L283.8 358.8L282.5 357.5L287.5 356.2L291.2 352.5L293.1 348.8L296.9 351.2L298.8 348.8L295.0 346.2L292.5 342.5L290.0 337.5L286.2 333.8L282.5 328.8L278.8 326.9L275.0 329.4L270.0 330.0L265.0 328.1L261.2 325.0L258.1 320.0L258.8 313.8L260.0 310.0ZM266.2 356.2L270.0 358.1L273.8 362.5L270.0 361.9L266.9 363.8ZM284.4 341.2L286.9 341.9L286.2 345.0L284.5 344.5Z" fill="#6195e8"/>
<path d="M188.0 419.5L246.2 418.8L252.5 421.2L260.0 422.5L266.2 426.2L271.2 432.5L272.5 440.0L280.0 436.2L286.2 433.8L288.8 430.0L295.0 428.8L299.5 424.5L302.0 425.5L301.2 432.5L297.5 436.2L293.8 439.5L288.8 443.8L285.5 447.5L284.5 453.8L280.0 458.8L275.0 463.8L272.5 467.5L274.5 473.8L275.5 478.8L273.0 477.5L271.2 471.2L267.5 468.0L261.2 467.5L256.2 470.0L252.5 470.0L246.2 472.0L241.2 473.8L240.0 477.5L237.5 472.5L233.8 470.0L230.0 467.0L225.0 465.0L220.0 465.0L215.0 464.5L207.5 463.8L202.5 462.5L197.5 458.8L193.8 453.8L191.2 448.8L188.8 442.5L187.5 435.0L188.0 426.2ZM101.7 338.8L107.0 334.0L111.8 329.1L120.6 324.3L126.4 326.2L137.1 329.1L150.3 331.5L150.3 378.6L145.8 376.7L140.0 374.8L135.1 376.7L131.3 380.6L127.4 384.5L123.5 387.4L119.2 390.9L114.8 394.2L118.6 388.3L120.6 384.5L114.8 382.5L108.0 380.6L104.1 377.7L103.1 372.8L107.0 368.9L111.8 366.0L112.2 362.1L108.9 359.2L101.2 357.9L99.8 353.4L105.0 352.0L109.9 350.9L108.0 346.6L103.1 343.7L101.7 340.8ZM156.1 379.2L157.7 378.4L159.6 381.6L158.1 382.3ZM160.0 382.7L161.6 381.9L163.5 385.0L161.9 385.8ZM164.3 386.6L165.8 385.8L168.2 389.3L166.6 390.1ZM168.9 391.3L170.5 390.5L174.0 395.5L172.4 396.3Z" fill="#416bb2"/>
<path d="M496.4 332.9L500.7 331.4L500.3 339.1L502.2 348.8L503.6 358.5L505.5 366.3L501.7 372.1L495.8 377.0L490.0 378.3L487.1 374.1L486.7 368.3L491.0 363.4L491.9 356.6L491.4 348.8L490.0 341.1L489.4 339.1L492.9 339.1Z" fill="#9dbcf2"/>
<path d="M446.5 413.3L448.3 415.2L451.5 417.1L454.7 419.0L456.5 420.6L455.3 422.8L454.3 425.3L455.3 427.8L454.7 430.3L455.9 432.2L455.6 434.7L452.8 434.4L450.2 434.1L448.3 435.4L446.1 436.8L443.3 435.7L440.1 435.4L440.1 432.2L441.1 429.1L440.1 426.5L438.2 424.0L436.4 422.4L434.1 421.5L434.5 420.9L437.6 421.5L439.8 420.9L440.1 419.3L442.7 418.3L444.6 416.5L445.2 414.2ZM461.3 401.0L462.9 401.6L463.8 402.9L466.6 402.9L468.5 402.3L470.4 403.8L470.7 406.4L470.3 408.9L471.7 410.8L469.2 412.7L466.6 414.6L467.3 416.8L468.5 419.0L466.6 421.2L463.5 422.8L460.3 421.5L459.1 419.3L459.4 417.7L456.5 416.5L455.9 413.9L456.9 411.4L456.9 408.2L457.5 405.4L459.4 403.5L461.9 402.9ZM472.9 404.5L474.8 402.3L477.4 401.0L479.3 401.3L481.8 401.9L489.7 402.1L490.0 405.7L489.4 408.9L490.0 412.0L489.4 414.6L487.1 416.5L483.7 416.8L481.2 415.5L478.6 413.9L476.1 412.7L474.2 410.8L473.3 407.9L472.3 406.0ZM478.3 420.2L479.9 419.3L480.8 418.0L481.8 419.3L484.9 419.0L484.3 419.7L481.8 420.2L479.9 421.8L478.9 421.2ZM451.2 409.4L452.8 407.6L454.3 406.4L455.6 405.0L456.0 406.0L454.7 408.6L453.7 410.5L452.6 410.3Z" fill="#3b78d6"/>
<path d="M468.5 415.2L470.4 414.2L472.9 414.2L474.8 415.8L477.4 416.5L478.9 417.4L477.4 418.5L474.8 418.3L472.3 418.0L470.1 418.3L468.8 416.8ZM457.2 431.0L459.1 429.1L461.6 427.8L465.4 426.2L467.9 426.5L468.8 427.5L466.6 429.4L466.0 431.6L467.3 434.1L469.2 436.6L471.1 439.2L473.6 441.1L476.1 442.6L477.1 443.6L475.5 444.8L473.6 443.3L471.4 441.4L469.2 439.5L467.0 437.9L465.4 436.0L464.1 433.5L462.9 431.9L460.3 432.2L458.4 432.5ZM459.9 443.3L460.7 443.3L460.8 447.0L460.0 447.0ZM470.4 449.4L472.7 449.0L472.3 451.0L470.6 450.8Z" fill="#94b3ef"/>
<path d="M591.5 456.9L593.4 461.7L595.3 465.6L591.5 469.5L588.5 474.4L585.6 477.3L587.6 480.2L589.5 486.0L586.6 488.9L583.7 487.0L585.6 483.1L578.8 480.2L572.0 479.2L570.1 473.4L575.9 471.5L579.8 467.6L585.6 463.7L589.5 459.8ZM598.3 464.3L602.1 465.0L605.0 468.5L607.0 472.4L612.8 475.3L618.6 478.3L623.1 480.2L623.9 487.0L620.6 489.9L616.7 492.8L613.8 497.7L609.9 501.6L607.0 507.4L605.0 513.2L601.7 516.7L599.2 511.3L596.3 503.5L594.0 496.7L592.4 489.9L589.5 486.0L587.6 480.2L585.6 477.3L588.5 474.4L591.5 469.5L595.3 465.6ZM628.3 478.3L632.2 477.3L637.1 475.3L641.0 474.4L639.0 477.3L636.1 479.2L635.1 483.1L632.2 483.7L631.3 480.2L628.3 480.6Z" fill="#9dbcf2" stroke="#fff" stroke-width="0.7" stroke-linejoin="round"/>
<path d="M592.4 455.0L596.3 453.0L602.1 455.9L607.0 456.9L605.0 461.7L600.2 463.7L596.3 463.1L593.4 458.8ZM633.2 474.0L637.1 472.0L641.0 472.4L640.0 474.8L636.1 476.3L632.8 476.7ZM414.8 476.4L422.8 476.4L422.8 479.4L418.4 480.1L414.8 489.2L408.2 489.2L411.1 481.9ZM545.3 426.5L551.2 426.5L550.8 430.4L546.3 430.8Z" fill="#c4c7ca"/>
<path d="M640.0 524.9L642.9 525.8L647.8 530.7L652.6 534.6L657.5 538.4L658.8 545.2L655.5 544.3L651.7 540.4L647.8 534.6L643.9 529.7ZM660.8 547.8L666.2 548.5L673.6 549.7L674.0 551.1L667.2 550.5L661.4 549.1ZM667.2 533.6L674.0 532.6L678.8 529.7L680.8 526.8L683.3 527.2L682.7 534.6L679.8 538.4L679.8 541.9L674.0 540.4L669.1 538.4ZM688.0 537.5L690.5 538.8L693.0 542.3L691.5 542.7L689.1 540.4ZM713.2 536.9L715.7 536.1L718.3 538.4L718.3 543.5L715.1 540.8L713.6 538.8Z" fill="#3b78d6"/>
<path d="M690.5 497.3L693.0 497.3L693.0 503.5L691.1 503.1ZM698.3 517.5L700.8 517.1L699.6 521.0L698.3 521.0Z" fill="#9dbcf2"/>
<path d="M188.0 419.5L246.2 418.8L252.5 421.2L260.0 422.5L266.2 426.2L271.2 432.5L272.5 440.0L280.0 436.2L286.2 433.8L288.8 430.0L295.0 428.8L299.5 424.5L302.0 425.5" fill="none" stroke="#fff" stroke-width="1.6"/>
<path d="M151.7 331.1L151.7 378.3" fill="none" stroke="#fff" stroke-width="1.6"/>
</g></svg>
<div class="zoom"></div>
<svg class="abs" style="left:719px;top:480px" width="80" height="161" viewBox="0 0 80 161"><path d="M10 81h59" stroke="#e6e6e6" stroke-width="2"/><path d="M23.5 39.8h33M40 23.3v33" stroke="#666" stroke-width="5" fill="none"/><path d="M23.5 121.7h33" stroke="#666" stroke-width="5" fill="none"/></svg>
<div class="attr" style="left:567px;width:171px"></div><div class="attr" style="left:740px;width:80px"></div>
<div class="t" id="m_data" style="left:575.70px;top:665.82px;font-size:20.3px;color:#000;letter-spacing:0px;transform:scaleX(0.9804);transform-origin:left center">Map Data ©2026</div>
<div class="t" id="m_terms" style="left:752.70px;top:665.82px;font-size:20.3px;color:#000;letter-spacing:0px;transform:scaleX(0.9825);transform-origin:left center">Terms</div>
</div></body></html>
